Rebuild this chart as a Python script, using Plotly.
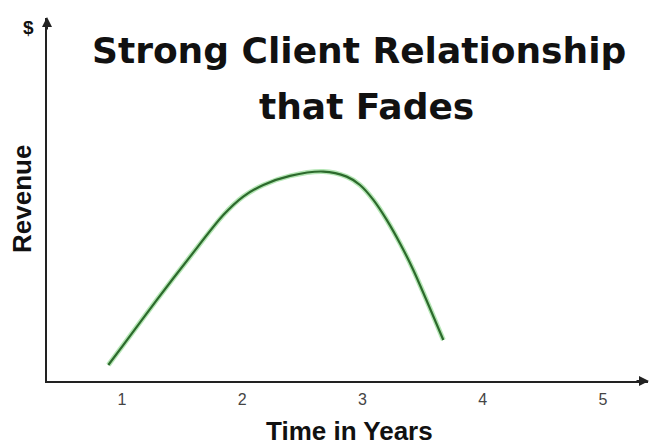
import plotly.graph_objects as go

# Data (years, revenue in arbitrary units)
years = [0.886, 1.010, 1.288, 1.565, 1.842, 2.008, 2.175, 2.397, 2.674,
         2.868, 2.979, 3.090, 3.201, 3.312, 3.422, 3.672]
revenue = [0.44, 0.99, 2.23, 3.42, 4.57, 5.08, 5.40, 5.65, 5.77,
           5.63, 5.40, 4.99, 4.44, 3.79, 3.06, 1.13]
tick_vals = [1, 2, 3, 4, 5]
tick_text = ["1", "2", "3", "4", "5"]

W, H = 650, 446
L, R, T, B = 47, 2, 18, 65
PW, PH = W - L - R, H - T - B


def px(x):
    return (x - L) / PW


def py(y):
    return (H - B - y) / PH


fig = go.Figure()
fig.add_trace(go.Scatter(x=years, y=revenue, mode="lines",
                         line=dict(color="rgba(120,210,120,0.55)", width=5, shape="spline", smoothing=0.8),
                         hoverinfo="skip", showlegend=False))
fig.add_trace(go.Scatter(x=years, y=revenue, mode="lines",
                         line=dict(color="#2c6a2c", width=2.2, shape="spline", smoothing=0.8),
                         showlegend=False))

fig.update_layout(
    width=W, height=H,
    margin=dict(l=L, r=R, t=T, b=B, pad=0),
    paper_bgcolor="white", plot_bgcolor="white",
    xaxis=dict(range=[0.376, 5.374], tickvals=tick_vals, ticktext=tick_text,
               showgrid=False, zeroline=False, showline=True, linecolor="#222", linewidth=2,
               ticks="outside", ticklen=3, tickcolor="white",
               tickfont=dict(family="Liberation Sans, Arial", size=16, color="#444"),
               fixedrange=True),
    yaxis=dict(range=[0, 10], showticklabels=False, showgrid=False, zeroline=False,
               showline=True, linecolor="#222", linewidth=2, fixedrange=True),
    font=dict(family="Liberation Sans, Arial"),
)

annotations = [
    dict(text="<b>Strong Client Relationship</b>", x=px(359), y=py(50),
         font=dict(family="DejaVu Sans", size=36, color="#111")),
    dict(text="<b>that Fades</b>", x=px(366), y=py(106),
         font=dict(family="DejaVu Sans", size=36, color="#111")),
    dict(text="<b>$</b>", x=px(28), y=py(27),
         font=dict(family="Liberation Sans, Arial", size=19, color="#111")),
    dict(text="<b>Revenue</b>", x=px(22), y=py(199), textangle=-90,
         font=dict(family="Liberation Sans, Arial", size=26, color="#111")),
    dict(text="<b>Time in Years</b>", x=px(349), y=py(431),
         font=dict(family="Liberation Sans, Arial", size=26, color="#111")),
]
for a in annotations:
    a.update(xref="paper", yref="paper", showarrow=False, xanchor="center", yanchor="middle")
    fig.add_annotation(**a)

# arrow heads on the axes
fig.add_annotation(x=px(649), y=py(381), xref="paper", yref="paper", ax=-14, ay=0,
                   axref="pixel", ayref="pixel", text="", showarrow=True,
                   arrowhead=2, arrowsize=1, arrowwidth=2, arrowcolor="#222")
fig.add_annotation(x=px(47), y=py(17), xref="paper", yref="paper", ax=0, ay=14,
                   axref="pixel", ayref="pixel", text="", showarrow=True,
                   arrowhead=2, arrowsize=1, arrowwidth=2, arrowcolor="#222")

fig.write_html("out.html", config={"displayModeBar": False},
               post_script="document.body.style.margin='0';document.body.style.overflow='hidden';")
